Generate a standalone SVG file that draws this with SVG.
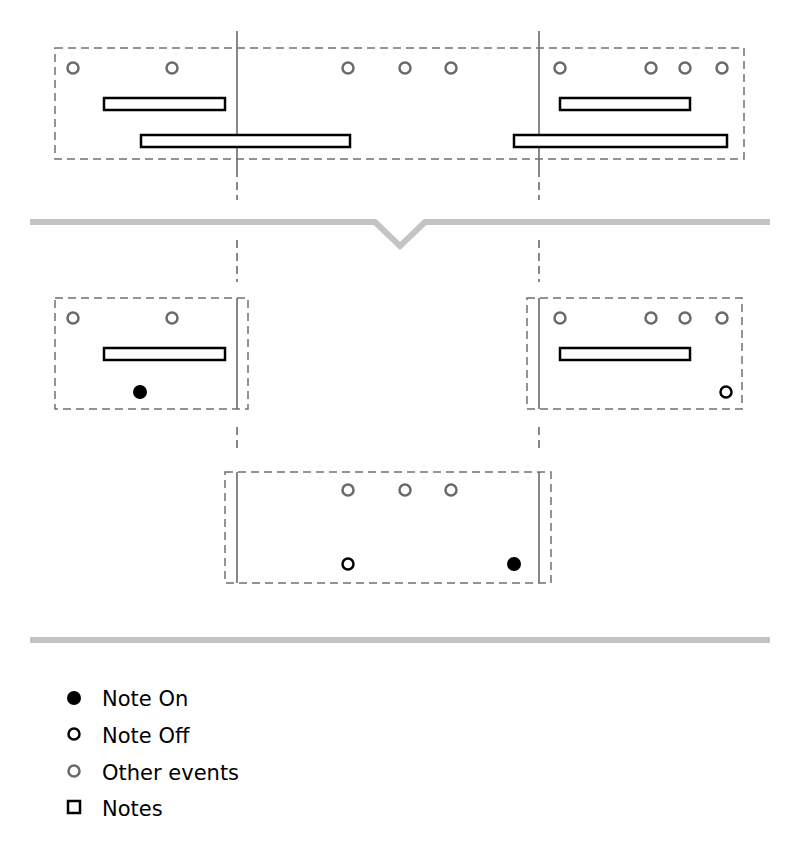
<svg xmlns="http://www.w3.org/2000/svg" width="800" height="849" viewBox="0 0 800 849">
<style>
.box{fill:none;stroke:#707070;stroke-width:1.5;stroke-dasharray:8,5}
.sep{stroke:#6a6a6a;stroke-width:1.6}
.dsep{stroke:#6a6a6a;stroke-width:1.6;stroke-dasharray:8,5}
.ev{fill:#fff;stroke:#6a6a6a;stroke-width:2.5}
.off{fill:#fff;stroke:#000;stroke-width:2.5}
.on{fill:#000}
.note{fill:#fff;stroke:#000;stroke-width:2.5}
.bar{fill:none;stroke:#c4c4c4;stroke-width:6}
.lbl{font-family:"DejaVu Sans","Liberation Sans",sans-serif;font-size:21px;fill:#000}
</style>
<g id="connectors">
<line class="sep" x1="237" y1="31" x2="237" y2="177"/>
<line class="dsep" x1="237" y1="182" x2="237" y2="200"/>
<line class="sep" x1="539" y1="31" x2="539" y2="177"/>
<line class="dsep" x1="539" y1="182" x2="539" y2="200"/>
<line class="dsep" x1="237" y1="240" x2="237" y2="282"/>
<line class="dsep" x1="539" y1="240" x2="539" y2="282"/>
<line class="dsep" x1="237" y1="427" x2="237" y2="450"/>
<line class="dsep" x1="539" y1="427" x2="539" y2="450"/>
</g>
<g id="top-track">
<rect class="box" x="55" y="48" width="689" height="111"/>
<circle class="ev" cx="73" cy="68" r="5.5"/>
<circle class="ev" cx="172" cy="68" r="5.5"/>
<circle class="ev" cx="348" cy="68" r="5.5"/>
<circle class="ev" cx="405" cy="68" r="5.5"/>
<circle class="ev" cx="451" cy="68" r="5.5"/>
<circle class="ev" cx="560" cy="68" r="5.5"/>
<circle class="ev" cx="651" cy="68" r="5.5"/>
<circle class="ev" cx="685" cy="68" r="5.5"/>
<circle class="ev" cx="722" cy="68" r="5.5"/>
<rect class="note" x="104" y="98" width="121" height="12"/>
<rect class="note" x="141" y="135" width="209" height="12"/>
<rect class="note" x="560" y="98" width="130" height="12"/>
<rect class="note" x="514" y="135" width="213" height="12"/>
</g>
<g id="bar-top">
<polyline class="bar" points="30,222 375,222 400,246 425,222 770,222"/>
</g>
<g id="part-left">
<rect class="box" x="55" y="298" width="193" height="111"/>
<line class="sep" x1="237" y1="298" x2="237" y2="409"/>
<circle class="ev" cx="73" cy="318" r="5.5"/>
<circle class="ev" cx="172" cy="318" r="5.5"/>
<rect class="note" x="104" y="348" width="121" height="12"/>
<circle class="on" cx="140" cy="392" r="7"/>
</g>
<g id="part-right">
<rect class="box" x="527" y="298" width="215" height="111"/>
<line class="sep" x1="539" y1="298" x2="539" y2="409"/>
<circle class="ev" cx="560" cy="318" r="5.5"/>
<circle class="ev" cx="651" cy="318" r="5.5"/>
<circle class="ev" cx="685" cy="318" r="5.5"/>
<circle class="ev" cx="722" cy="318" r="5.5"/>
<rect class="note" x="560" y="348" width="130" height="12"/>
<circle class="off" cx="726" cy="392" r="5.5"/>
</g>
<g id="part-middle">
<rect class="box" x="225" y="472" width="326" height="111"/>
<line class="sep" x1="237" y1="472" x2="237" y2="583"/>
<line class="sep" x1="539" y1="472" x2="539" y2="583"/>
<circle class="ev" cx="348" cy="490" r="5.5"/>
<circle class="ev" cx="405" cy="490" r="5.5"/>
<circle class="ev" cx="451" cy="490" r="5.5"/>
<circle class="off" cx="348" cy="564" r="5.5"/>
<circle class="on" cx="514" cy="564" r="7"/>
</g>
<g id="bar-bottom">
<line class="bar" x1="30" y1="640" x2="770" y2="640"/>
</g>
<g id="legend">
<circle class="on" cx="74" cy="698" r="7"/>
<text class="lbl" x="102" y="706">Note On</text>
<circle class="off" cx="74" cy="734" r="5.5"/>
<text class="lbl" x="102" y="743">Note Off</text>
<circle class="ev" cx="74" cy="771" r="5.5"/>
<text class="lbl" x="102" y="780">Other events</text>
<rect class="note" x="68" y="801" width="12" height="12"/>
<text class="lbl" x="102" y="816">Notes</text>
</g>
</svg>
